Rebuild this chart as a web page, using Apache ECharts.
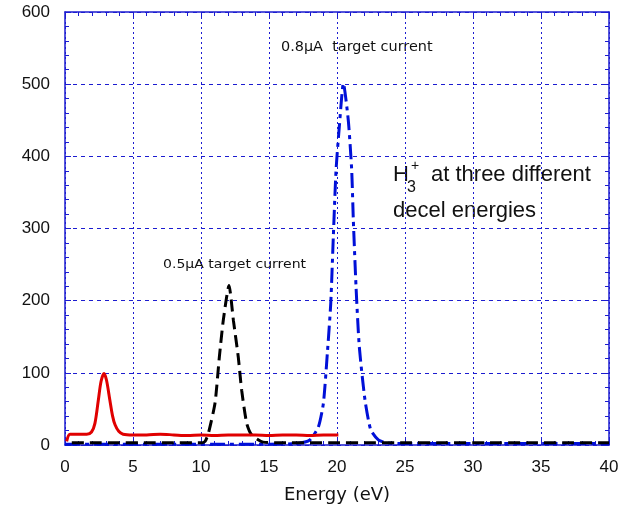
<!DOCTYPE html>
<html><head><meta charset="utf-8">
<script src="https://cdn.jsdelivr.net/npm/echarts@6/dist/echarts.min.js"></script>
<style>html,body{margin:0;padding:0;background:#fff}#c{width:623px;height:513px}</style>
</head><body><div id="c"></div>
<script>
const xTicks = [0, 5, 10, 15, 20, 25, 30, 35, 40];
const yTicks = [0, 100, 200, 300, 400, 500, 600];

const redX = [0.12, 0.37, 1.0, 1.6, 1.95, 2.2, 2.45, 2.65, 2.87, 3.05, 3.3, 3.5, 3.68, 3.95, 4.27, 5, 6, 7, 8, 9, 10, 11, 12, 13, 14, 15, 16, 17, 18, 19, 20.1];
const redY = [5, 15, 15, 15, 18, 30, 62, 88, 99, 90, 62, 40, 28, 19, 15, 14, 14, 15, 14, 13, 14, 13, 14, 14, 14, 13, 14, 14, 13, 14, 14];

const blackX = [0.5, 2, 4, 6, 8, 10, 10.3, 10.54, 11.03, 11.35, 11.64, 12.06, 12.38, 12.74, 12.99, 13.36, 13.73, 14.56, 16, 18, 20, 22, 25, 28, 31, 34, 37, 40];
const blackY = [3, 3, 3, 3, 3, 3, 5, 16, 58, 122, 173, 221, 173, 122, 76, 30, 14, 4, 3, 3, 3, 3, 3, 3, 3, 3, 3, 3];

const blueX = [0, 3, 6, 9, 12, 15, 17, 18.0, 18.63, 19.0, 19.29, 19.54, 19.73, 19.93, 20.17, 20.47, 20.83, 21.08, 21.2, 21.4, 21.64, 22.06, 22.48, 23.04, 23.65, 25, 28, 31, 34, 37, 40];
const blueY = [1, 1, 1, 1, 1, 1, 2, 7, 25, 58, 127, 196, 289, 381, 441, 501, 450, 381, 312, 219, 136, 62, 21, 7, 3, 2, 2, 2, 2, 2, 2];

const xName = 'Energy (eV)';
const note1 = '0.8\u03bcA  target current';
const note2 = '0.5\u03bcA target current';

const pair = (xs, ys) => xs.map((x, i) => [x, ys[i]]);
const AX = '#1c1cd0';
const FONT = 'Liberation Sans';
const WIDE = 'DejaVu Sans';

function axisBase(extra) {
  return Object.assign({
    type: 'value',
    axisLine: { show: true, onZero: false, lineStyle: { color: AX, width: 1.5 } },
    axisTick: { show: true, inside: true, length: 6, lineStyle: { color: AX } },
    minorTick: { show: true, splitNumber: 5, length: 4, lineStyle: { color: AX } },
    splitLine: { show: false },
  }, extra);
}

const chart = echarts.init(document.getElementById('c'));
chart.setOption({
  animation: false,
  textStyle: { fontFamily: FONT },
  grid: { left: 65, right: 14, top: 12, bottom: 68 },
  xAxis: [
    axisBase({
      min: xTicks[0], max: xTicks[xTicks.length - 1], interval: 5,
      name: xName, nameLocation: 'middle', nameGap: 41,
      nameTextStyle: { fontSize: 18, color: '#111', fontFamily: WIDE },
      axisLabel: { fontSize: 17, color: '#111', margin: 14, fontFamily: FONT },
      splitLine: { show: true, lineStyle: { color: AX, type: [2, 3], width: 1 } },
    }),
    axisBase({
      position: 'top', min: xTicks[0], max: xTicks[xTicks.length - 1], interval: 5,
      axisLabel: { show: false },
    }),
  ],
  yAxis: [
    axisBase({
      min: yTicks[0], max: yTicks[yTicks.length - 1], interval: 100,
      axisLabel: { fontSize: 17, color: '#111', margin: 15, fontFamily: FONT },
      splitLine: { show: true, lineStyle: { color: AX, type: [4, 4], width: 1 } },
    }),
    axisBase({
      position: 'right', min: yTicks[0], max: yTicks[yTicks.length - 1], interval: 100,
      axisLabel: { show: false },
    }),
  ],
  series: [
    {
      type: 'line', data: pair(blueX, blueY), showSymbol: false, smooth: 0.2,
      lineStyle: { color: '#0010d8', width: 3, type: [15, 5, 4, 5] }, z: 3,
    },
    {
      type: 'line', data: pair(blackX, blackY), showSymbol: false, smooth: 0.2,
      lineStyle: { color: '#000', width: 3, type: [12, 6] }, z: 4,
    },
    {
      type: 'line', data: pair(redX, redY), showSymbol: false, smooth: 0.3,
      lineStyle: { color: '#e00000', width: 3 }, z: 5,
    },
  ],
  graphic: [
    { type: 'text', x: 281, y: 40, scaleX: 1.03, style: { text: note1, fontSize: 14, fill: '#111', fontFamily: WIDE } },
    { type: 'text', x: 163, y: 259, scaleX: 1.17, style: { text: note2, fontSize: 12, fill: '#111', fontFamily: WIDE } },
    { type: 'text', x: 393, y: 164, style: { text: 'H', fontSize: 22, fill: '#111', fontFamily: FONT } },
    { type: 'text', x: 407, y: 180, style: { text: '3', fontSize: 16, fill: '#111', fontFamily: FONT } },
    { type: 'text', x: 411, y: 159, style: { text: '+', fontSize: 14, fill: '#111', fontFamily: FONT } },
    { type: 'text', x: 431, y: 164, style: { text: 'at three different', fontSize: 22, fill: '#111', fontFamily: FONT } },
    { type: 'text', x: 393, y: 200, style: { text: 'decel energies', fontSize: 22, fill: '#111', fontFamily: FONT } },
  ],
});
</script></body></html>
